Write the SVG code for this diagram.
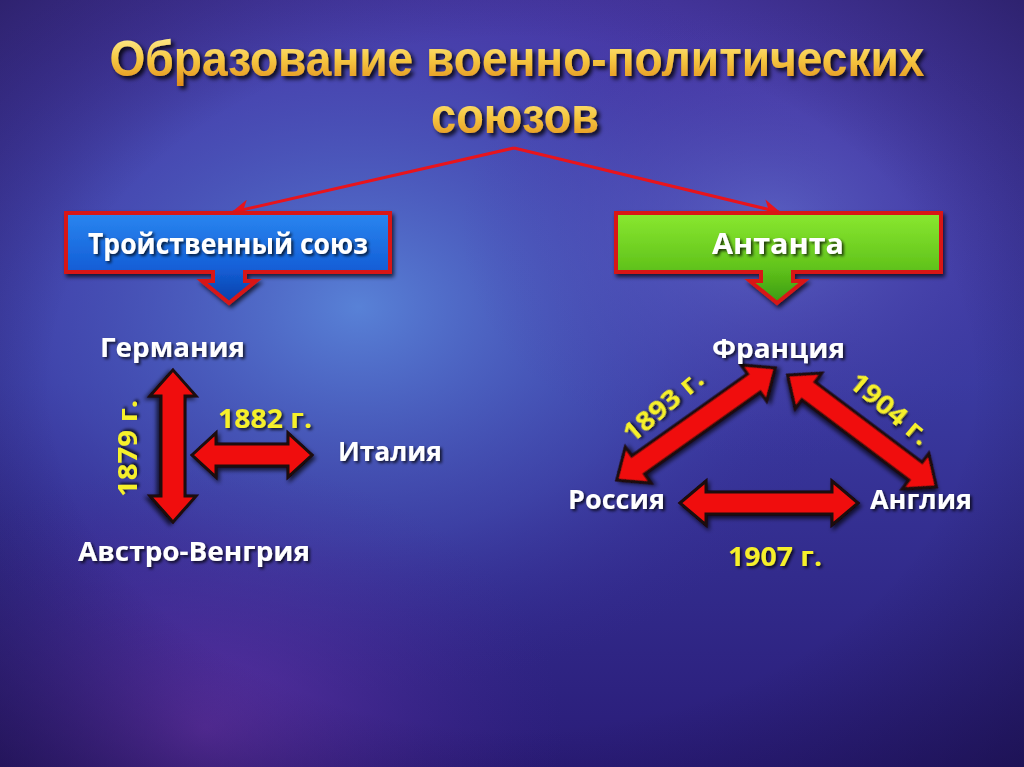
<svg xmlns="http://www.w3.org/2000/svg" width="1024" height="767" viewBox="0 0 1024 767">
<defs>
<linearGradient id="bg" x1="0" y1="0" x2="0" y2="1">
<stop offset="0" stop-color="#4a3aa8"/>
<stop offset="0.5" stop-color="#3a3aa0"/>
<stop offset="1" stop-color="#2a1c78"/>
</linearGradient>
<radialGradient id="glow1" cx="0.35" cy="0.4" r="0.5">
<stop offset="0" stop-color="#5d8ee0" stop-opacity="0.85"/>
<stop offset="0.6" stop-color="#4a5ac0" stop-opacity="0.4"/>
<stop offset="1" stop-color="#3a2a98" stop-opacity="0"/>
</radialGradient>
<radialGradient id="glow2" cx="0.75" cy="0.3" r="0.3">
<stop offset="0" stop-color="#6a7ad8" stop-opacity="0.6"/>
<stop offset="1" stop-color="#4a3aa8" stop-opacity="0"/>
</radialGradient>
<radialGradient id="glow3" cx="0.2" cy="0.95" r="0.35">
<stop offset="0" stop-color="#7a3ab8" stop-opacity="0.6"/>
<stop offset="1" stop-color="#4a2a98" stop-opacity="0"/>
</radialGradient>
<radialGradient id="vig" cx="0.5" cy="0.5" r="0.75">
<stop offset="0.6" stop-color="#100830" stop-opacity="0"/>
<stop offset="1" stop-color="#100830" stop-opacity="0.55"/>
</radialGradient>
<linearGradient id="gold" x1="0" y1="0" x2="0" y2="1">
<stop offset="0" stop-color="#fff2a0"/>
<stop offset="0.5" stop-color="#f6c842"/>
<stop offset="1" stop-color="#e08a18"/>
</linearGradient>
<linearGradient id="blue" x1="0" y1="0" x2="0" y2="1">
<stop offset="0" stop-color="#2a86f0"/>
<stop offset="0.6" stop-color="#1460d8"/>
<stop offset="1" stop-color="#0a40a8"/>
</linearGradient>
<linearGradient id="green" x1="0" y1="0" x2="0" y2="1">
<stop offset="0" stop-color="#8ae830"/>
<stop offset="0.6" stop-color="#62c41c"/>
<stop offset="1" stop-color="#3a9a10"/>
</linearGradient>
<filter id="sh" x="-20%" y="-20%" width="140%" height="140%">
<feDropShadow dx="2" dy="3" stdDeviation="2" flood-color="#000" flood-opacity="0.7"/>
</filter>
<filter id="tsh" x="-10%" y="-30%" width="120%" height="160%">
<feDropShadow dx="2" dy="2" stdDeviation="1.5" flood-color="#000" flood-opacity="0.75"/>
</filter>
<filter id="tish" x="-5%" y="-30%" width="110%" height="170%">
<feDropShadow dx="3" dy="3" stdDeviation="2" flood-color="#000" flood-opacity="0.85"/>
</filter>
<marker id="ah" viewBox="0 0 10 10" refX="9" refY="5" markerWidth="6" markerHeight="6" orient="auto">
<path d="M0,0 L10,5 L0,10 L3,5 Z" fill="#e8141c"/>
</marker>
<style>
.t{font-family:"Open Sans","Liberation Sans",sans-serif;font-weight:bold;fill:#ffffff;filter:url(#tsh)}
.y{font-family:"Open Sans","Liberation Sans",sans-serif;font-weight:bold;fill:#f6f02a;filter:url(#tsh)}
.ti{font-family:"Liberation Sans","Open Sans",sans-serif;font-weight:bold;fill:url(#gold);filter:url(#tish)}
.arr{fill:#f01010;stroke:#1a0808;stroke-width:3;stroke-linejoin:miter;filter:url(#sh)}
.con{fill:none;stroke:#e8141c;stroke-width:3}
</style>
</defs>
<rect width="1024" height="767" fill="url(#bg)"/>
<rect width="1024" height="767" fill="url(#glow1)"/>
<rect width="1024" height="767" fill="url(#glow2)"/>
<rect width="1024" height="767" fill="url(#glow3)"/>
<rect width="1024" height="767" fill="url(#vig)"/>

<g id="title">
<text class="ti" x="517" y="76" font-size="50" text-anchor="middle" textLength="815" lengthAdjust="spacingAndGlyphs">Образование военно-политических</text>
<text class="ti" x="515" y="133" font-size="50" text-anchor="middle" textLength="168" lengthAdjust="spacingAndGlyphs">союзов</text>
</g>

<g id="connectors">
<line class="con" x1="514" y1="148" x2="233" y2="212" marker-end="url(#ah)"/>
<line class="con" x1="514" y1="148" x2="779" y2="212" marker-end="url(#ah)"/>
</g>

<g id="triple-alliance">
<path d="M66,213 H390 V272 H245 V281 H256 L229,303 L202,281 H213 V272 H66 Z" fill="url(#blue)" stroke="#d81818" stroke-width="4" filter="url(#sh)"/>
<text class="t" x="228" y="254" font-size="29" text-anchor="middle" textLength="280" lengthAdjust="spacingAndGlyphs">Тройственный союз</text>
</g>

<g id="entente">
<path d="M616,213 H941 V272 H793 V281 H804 L777,303 L750,281 H761 V272 H616 Z" fill="url(#green)" stroke="#d81818" stroke-width="4" filter="url(#sh)"/>
<text class="t" x="778" y="254" font-size="29" text-anchor="middle" textLength="132" lengthAdjust="spacingAndGlyphs">Антанта</text>
</g>

<g id="arrows">
<polygon class="arr" transform="translate(173,446) rotate(90)" points="-76,0 -50,-23 -50,-12 50,-12 50,-23 76,0 50,23 50,12 -50,12 -50,23"/>
<polygon class="arr" transform="translate(252,455)" points="-60,0 -36,-22 -36,-11 36,-11 36,-22 60,0 36,22 36,11 -36,11 -36,22"/>
<polygon class="arr" transform="translate(769,503)" points="-89,0 -63,-22 -63,-11 63,-11 63,-22 89,0 63,22 63,11 -63,11 -63,22"/>
<polygon class="arr" transform="translate(696,424) rotate(-35.3)" points="-97,0 -71,-22 -71,-11 71,-11 71,-22 97,0 71,22 71,11 -71,11 -71,22"/>
<polygon class="arr" transform="translate(862,431) rotate(36.9)" points="-93,0 -67,-22 -67,-11 67,-11 67,-22 93,0 67,22 67,11 -67,11 -67,22"/>
</g>

<g id="germany"><text class="t" x="100" y="357" font-size="26" textLength="145" lengthAdjust="spacingAndGlyphs">Германия</text></g>
<g id="italy"><text class="t" x="338" y="461" font-size="26" textLength="104" lengthAdjust="spacingAndGlyphs">Италия</text></g>
<g id="austria"><text class="t" x="78" y="561" font-size="26" textLength="232" lengthAdjust="spacingAndGlyphs">Австро-Венгрия</text></g>
<g id="france"><text class="t" x="712" y="358" font-size="26" textLength="133" lengthAdjust="spacingAndGlyphs">Франция</text></g>
<g id="russia"><text class="t" x="568" y="509" font-size="26" textLength="97" lengthAdjust="spacingAndGlyphs">Россия</text></g>
<g id="england"><text class="t" x="870" y="509" font-size="26" textLength="102" lengthAdjust="spacingAndGlyphs">Англия</text></g>

<g id="years">
<text class="y" x="218" y="428" font-size="26" textLength="94" lengthAdjust="spacingAndGlyphs">1882 г.</text>
<text class="y" transform="translate(137,497) rotate(-90)" x="0" y="0" font-size="26" textLength="97" lengthAdjust="spacingAndGlyphs">1879 г.</text>
<text class="y" transform="translate(669,413) rotate(-40)" x="0" y="0" font-size="26" text-anchor="middle" textLength="96" lengthAdjust="spacingAndGlyphs">1893 г.</text>
<text class="y" transform="translate(884,416) rotate(40)" x="0" y="0" font-size="26" text-anchor="middle" textLength="96" lengthAdjust="spacingAndGlyphs">1904 г.</text>
<text class="y" x="728" y="566" font-size="26" textLength="94" lengthAdjust="spacingAndGlyphs">1907 г.</text>
</g>
</svg>
